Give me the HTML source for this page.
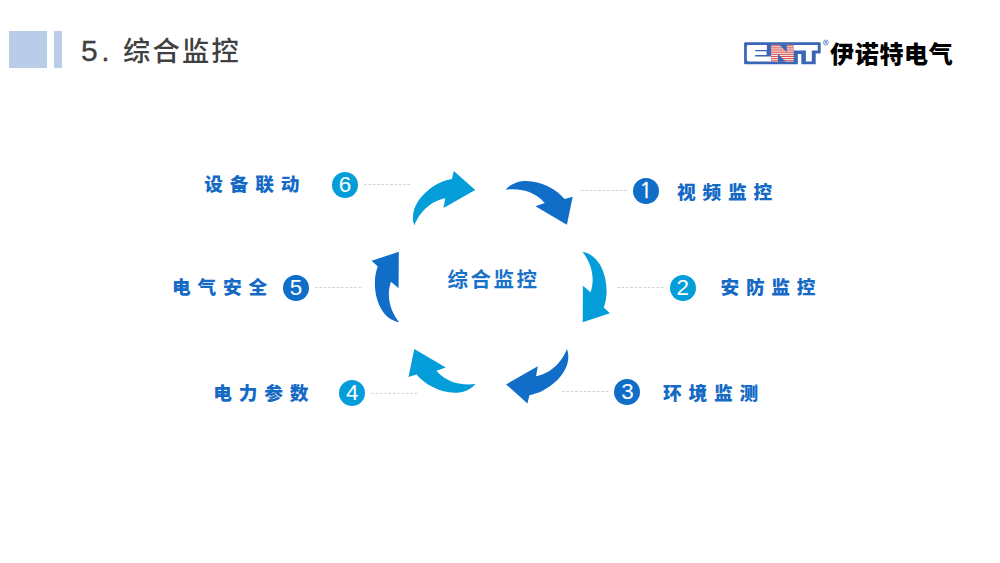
<!DOCTYPE html>
<html lang="zh-CN">
<head>
<meta charset="utf-8">
<title>5. 综合监控</title>
<style>
html,body{margin:0;padding:0;background:#fff;}
body{width:1000px;height:563px;position:relative;overflow:hidden;font-family:"Liberation Sans","Noto Sans CJK SC",sans-serif;}
.abs{position:absolute;}
.sq{left:8.8px;top:31px;width:37.8px;height:37px;background:#b9cde8;}
.bar{left:53.5px;top:31px;width:8.5px;height:37px;background:#b9cde8;}
.title{left:81px;top:30.5px;height:40px;line-height:40px;font-size:27.2px;font-weight:500;color:#404040;letter-spacing:2.3px;white-space:nowrap;}
.title .n{font-size:30px;font-weight:400;-webkit-text-stroke:0.3px #404040;letter-spacing:3.5px;margin-right:10px;}
.brand{left:830px;top:38px;height:34px;line-height:34px;font-size:24px;font-weight:900;color:#000;white-space:nowrap;letter-spacing:0.7px;}
.center{left:393.6px;top:263.4px;width:200px;height:34px;line-height:34px;text-align:center;font-size:20.5px;font-weight:700;color:#1a72c8;letter-spacing:2.5px;white-space:nowrap;}
.lbl{height:30px;line-height:30px;font-size:18.7px;font-weight:900;color:#146ac4;letter-spacing:6.8px;white-space:nowrap;margin-top:2px;}
.num{width:26px;height:26px;border-radius:50%;color:#fff;font-size:22.4px;line-height:25px;text-align:center;font-family:"Liberation Sans",sans-serif;}
.dk{background:#106ec8;}
.lt{background:#039eda;}
.dash{height:0;border-top:1px dashed #d4d4d4;}
svg{position:absolute;left:0;top:0;}
</style>
</head>
<body>
<div class="abs sq"></div>
<div class="abs bar"></div>
<div class="abs title"><span class="n">5.</span>综合监控</div>

<svg width="1000" height="563" viewBox="0 0 1000 563">
  <defs>
    <path id="arw" d="M505.7,189.7 C521.2,171.8 553.4,184.6 564.6,199.1 L572.7,196.7 L566.9,224.7 L535.4,206.3 L544.8,202.9 C532.9,189.4 516.9,188.2 505.7,189.7 Z"/>
  </defs>
  <g>
    <use href="#arw" fill="#106ec8"/>
    <use href="#arw" fill="#039eda" transform="translate(0.5 0.3) rotate(60 490.3 286.6)"/>
    <use href="#arw" fill="#106ec8" transform="translate(0.5 0.5) rotate(120 490.3 286.6)"/>
    <use href="#arw" fill="#039eda" transform="translate(0.6 0.5) rotate(180 490.3 286.6)"/>
    <use href="#arw" fill="#106ec8" transform="translate(0.4 0.6) rotate(240 490.3 286.6)"/>
    <use href="#arw" fill="#039eda" transform="translate(0.2 0.6) rotate(300 490.3 286.6)"/>
  </g>
  <g stroke="#d4d4d4" stroke-width="1" stroke-dasharray="2.7 1.65" fill="none">
    <line x1="580.8" y1="190.5" x2="627.0" y2="190.5"/>
    <line x1="617.2" y1="287.5" x2="663.4" y2="287.5"/>
    <line x1="562" y1="391.5" x2="608.2" y2="391.5"/>
    <line x1="371.1" y1="393.3" x2="417.3" y2="393.3"/>
    <line x1="315" y1="287.5" x2="361.2" y2="287.5"/>
    <line x1="363.9" y1="184.5" x2="410.1" y2="184.5"/>
  </g>
  <!-- logo -->
  <g id="logo">
    <defs>
      <pattern id="stripes" x="0" y="44.85" width="4" height="1.87" patternUnits="userSpaceOnUse">
        <rect x="0" y="0" width="4" height="1.87" fill="#fdf3f3"/>
        <rect x="0" y="0" width="4" height="0.85" fill="#d63a36"/>
      </pattern>
    </defs>
    <path d="M745.1,42.2 H819.9 Q820.7,42.2 820.7,43 V52.7 Q820.7,53.5 819.9,53.5 H815.7 V64.2 H801.3 V53.9 H797.85 V64.2 H745.1 Q744.1,64.2 744.1,63.2 V43.2 Q744.1,42.2 745.1,42.2Z" fill="#3a66b5"/>
    <path d="M748.3,45.1 H766.9 V49.9 H755.2 V51.3 H766.5 V55 H755.2 V56.6 H771.1 V61.5 H748.8 Q746.85,61.5 746.85,59.5 V46.5 Q746.85,45.1 748.3,45.1Z" fill="#fff"/>
    <rect x="771.1" y="44.85" width="22.6" height="16.85" fill="url(#stripes)"/>
    <polygon points="779.4,44.85 786.8,44.85 786.8,52.2" fill="#3a66b5"/>
    <polygon points="778,53.85 778,61.7 785.6,61.7" fill="#3a66b5"/>
    <path d="M793.7,45.1 H817.75 V50.45 H811.8 V61.5 H805.9 V50.45 H793.7Z" fill="#fff"/>
    <circle cx="825.9" cy="42.5" r="2.5" fill="none" stroke="#4a74c0" stroke-width="0.7"/>
    <text x="825.9" y="43.9" font-size="3.8" font-weight="bold" fill="#4a74c0" text-anchor="middle" font-family="Liberation Sans, sans-serif">R</text>
  </g>
</svg>

<div class="abs brand">伊诺特电气</div>
<div class="abs center">综合监控</div>

<div class="abs num dk" style="left:633px;top:177.6px;font-family:NanumGothic,'Liberation Sans',sans-serif;font-size:21.5px;line-height:26px;text-indent:-0.4px;-webkit-text-stroke:0.45px #fff;">1</div>
<div class="abs lbl" style="left:677px;top:176px;">视频监控</div>

<div class="abs num lt" style="left:669.7px;top:275px;">2</div>
<div class="abs lbl" style="left:720.4px;top:271.4px;">安防监控</div>

<div class="abs num dk" style="left:614.4px;top:378.7px;">3</div>
<div class="abs lbl" style="left:663px;top:377px;">环境监测</div>

<div class="abs lbl" style="left:213.3px;top:377px;">电力参数</div>
<div class="abs num lt" style="left:339.2px;top:380px;">4</div>

<div class="abs lbl" style="left:172px;top:271.3px;">电气安全</div>
<div class="abs num dk" style="left:283px;top:274.8px;">5</div>

<div class="abs lbl" style="left:204.2px;top:168.3px;">设备联动</div>
<div class="abs num lt" style="left:332px;top:171.8px;">6</div>
</body>
</html>
